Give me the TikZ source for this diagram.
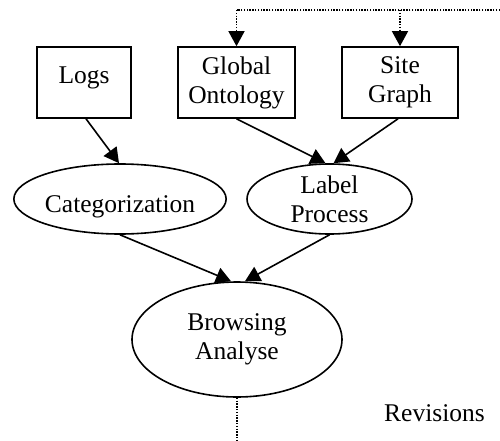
\documentclass[tikz,border=0pt]{standalone}
\usepackage{fontspec}
\setmainfont{Liberation Serif}
\usetikzlibrary{arrows.meta,shapes.geometric}
\begin{document}
\begin{tikzpicture}[x=1pt,y=-1pt,
  every node/.style={font=\fontsize{25.5pt}{29pt}\selectfont},
  boxnode/.style={draw,line width=1.6pt,rectangle,inner sep=0pt,minimum height=71pt,align=center},
  ellnode/.style={draw,line width=1.6pt,ellipse,inner sep=0pt,align=center},
  arr/.style={line width=1.6pt,-{Triangle[length=15pt,width=16pt]}},
  dotarr/.style={line width=1.4pt,dash pattern=on 1.4pt off 1.4pt,-{Triangle[length=15pt,width=16pt]}},
  dotline/.style={line width=1.4pt,dash pattern=on 1.4pt off 1.4pt}]
\useasboundingbox (0,0) rectangle (500,441);
\node[boxnode,minimum width=94pt,text depth=15pt] (logs) at (84,82.5) {Logs};
\node[boxnode,minimum width=117pt] (go) at (236.5,82.5) {Global\\Ontology};
\node[boxnode,minimum width=116pt] (sg) at (400,82.5) {Site\\Graph};
\node[ellnode,minimum width=211pt,minimum height=70pt,text height=32pt] (cat) at (120,199) {Categorization};
\node[ellnode,minimum width=165pt,minimum height=70pt] (lp) at (329.5,199) {Label\\Process};
\node[ellnode,minimum width=210pt,minimum height=115pt] (ba) at (237,339.5) {Browsing\\Analyse};
\node[anchor=base] (rev) at (434.5,421) {Revisions};
\coordinate (tr) at (500,10);
\coordinate (tl) at (236.5,10);
\coordinate (bot) at (237,441);
\draw[dotline] (tr) -- (tl);
\draw[dotarr] (tl) -- (go.north);
\draw[dotarr] (sg.north |- tr) -- (sg.north);
\draw[arr] ([xshift=2pt]logs.south) -- ([xshift=-1pt]cat.north);
\draw[arr] (go.south) -- ([xshift=-4pt]lp.north);
\draw[arr] ([xshift=-2pt]sg.south) -- ([xshift=4pt]lp.north);
\draw[arr] (cat.south) -- ([xshift=-6pt]ba.north);
\draw[arr] (lp.south) -- ([xshift=8pt]ba.north);
\draw[dotline] (ba.south) -- (bot);
\end{tikzpicture}
\end{document}
